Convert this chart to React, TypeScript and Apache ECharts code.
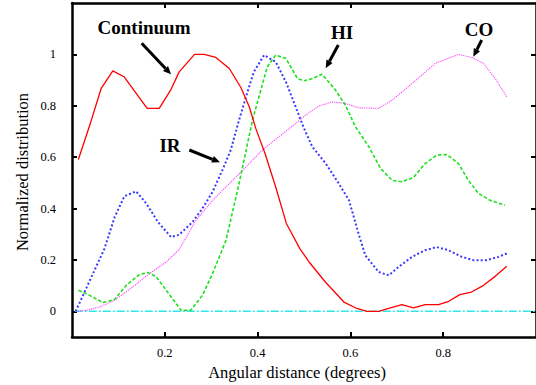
import React, { useEffect, useRef } from "react";
import * as echarts from "echarts";

// Angular distance (degrees) sampled for each tracer
const contX = [0.0137, 0.0375, 0.063, 0.088, 0.112, 0.162, 0.188, 0.2135, 0.231, 0.264, 0.285, 0.31, 0.339, 0.364, 0.382, 0.396, 0.416, 0.439, 0.462, 0.491, 0.511, 0.546, 0.586, 0.614, 0.636, 0.661, 0.686, 0.711, 0.736, 0.761, 0.79, 0.812, 0.836, 0.861, 0.887, 0.912, 0.937];
const contY = [0.591, 0.72, 0.868, 0.936, 0.913, 0.79, 0.79, 0.864, 0.932, 1.0, 1.0, 0.988, 0.945, 0.871, 0.796, 0.712, 0.614, 0.484, 0.342, 0.244, 0.192, 0.114, 0.036, 0.011, 0, 0, 0.013, 0.026, 0.013, 0.026, 0.026, 0.039, 0.065, 0.075, 0.101, 0.136, 0.175];

const irX = [0.008, 0.07, 0.092, 0.113, 0.138, 0.16, 0.185, 0.2135, 0.231, 0.26, 0.281, 0.303, 0.324, 0.342, 0.36, 0.375, 0.392, 0.414, 0.439, 0.461, 0.482, 0.5, 0.518, 0.547, 0.575, 0.597, 0.618, 0.632, 0.661, 0.683, 0.704, 0.733, 0.761, 0.786, 0.811, 0.84, 0.865, 0.894, 0.919, 0.937];
const irY = [0, 0.244, 0.367, 0.448, 0.467, 0.42, 0.348, 0.289, 0.298, 0.348, 0.4, 0.465, 0.549, 0.627, 0.744, 0.835, 0.932, 0.997, 0.971, 0.893, 0.796, 0.712, 0.64, 0.575, 0.497, 0.432, 0.3, 0.218, 0.153, 0.14, 0.173, 0.212, 0.238, 0.25, 0.238, 0.212, 0.199, 0.199, 0.212, 0.225];

const hiX = [0.014, 0.038, 0.067, 0.092, 0.117, 0.145, 0.163, 0.181, 0.203, 0.235, 0.256, 0.281, 0.303, 0.332, 0.36, 0.389, 0.407, 0.421, 0.439, 0.461, 0.486, 0.5, 0.518, 0.539, 0.568, 0.589, 0.611, 0.64, 0.665, 0.69, 0.711, 0.736, 0.761, 0.786, 0.808, 0.833, 0.854, 0.876, 0.901, 0.933];
const hiY = [0.082, 0.062, 0.034, 0.046, 0.101, 0.143, 0.151, 0.136, 0.082, 0.004, 0.004, 0.062, 0.147, 0.277, 0.497, 0.744, 0.861, 0.952, 0.997, 0.984, 0.906, 0.897, 0.906, 0.923, 0.861, 0.803, 0.718, 0.64, 0.556, 0.51, 0.504, 0.521, 0.575, 0.608, 0.61, 0.575, 0.51, 0.459, 0.432, 0.413];

const coX = [0.008, 0.031, 0.06, 0.092, 0.131, 0.167, 0.203, 0.231, 0.267, 0.303, 0.339, 0.375, 0.41, 0.446, 0.486, 0.504, 0.532, 0.561, 0.589, 0.618, 0.661, 0.69, 0.733, 0.783, 0.833, 0.861, 0.887, 0.912, 0.937];
const coY = [0, 0.004, 0.017, 0.043, 0.095, 0.147, 0.192, 0.24, 0.354, 0.432, 0.497, 0.562, 0.627, 0.679, 0.737, 0.764, 0.799, 0.815, 0.809, 0.792, 0.79, 0.822, 0.887, 0.965, 1.0, 0.988, 0.965, 0.906, 0.835];

const zeroX = [0.006, 1.0];
const zeroY = [0, 0];

const xTicks = [0.2, 0.4, 0.6, 0.8];
const yTicks = [0, 0.2, 0.4, 0.6, 0.8, 1];

const SERIF = "Liberation Serif";

// Force the serif face on every SVG text the chart emits
const textCss = `.serif-chart svg text { font-family: "Liberation Serif", "Times New Roman", serif !important; }`;

const pairs = (xs: number[], ys: number[]) => xs.map((x, i) => [x, ys[i]]);

// Straight arrow with a small filled head, in pixel space
function arrow(x1: number, y1: number, x2: number, y2: number) {
  const dx = x2 - x1;
  const dy = y2 - y1;
  const len = Math.hypot(dx, dy);
  const ux = dx / len;
  const uy = dy / len;
  const headLen = 8;
  const headW = 3.5;
  const bx = x2 - ux * headLen;
  const by = y2 - uy * headLen;
  return [
    {
      type: "line",
      shape: { x1, y1, x2: bx, y2: by },
      style: { stroke: "#000", lineWidth: 3 },
    },
    {
      type: "polygon",
      shape: {
        points: [
          [x2, y2],
          [bx - uy * headW, by + ux * headW],
          [bx + uy * headW, by - ux * headW],
        ],
      },
      style: { fill: "#000" },
    },
  ];
}

function label(text: string, x: number, y: number) {
  return {
    type: "text",
    x,
    y,
    style: {
      text,
      fill: "#000",
      fontFamily: SERIF,
      fontWeight: "bold",
      fontSize: 19,
      textAlign: "center",
      textVerticalAlign: "middle",
    },
  };
}

export default function App() {
  const ref = useRef<HTMLDivElement>(null);

  useEffect(() => {
    document.body.style.margin = "0";
    if (!ref.current) return;
    const chart = echarts.init(ref.current, undefined, { renderer: "svg" });

    const axisLine = { show: true, onZero: false, lineStyle: { color: "#000", width: 2.5 } };
    const tick = {
      show: true,
      inside: true,
      length: 5,
      lineStyle: { color: "#000", width: 2 },
    };
    const tickText = {
      color: "#000",
      fontFamily: SERIF,
      fontSize: 12.5,
    };

    const lineSeries = (
      name: string,
      xs: number[],
      ys: number[],
      color: string,
      width: number,
      type: any
    ) => ({
      name,
      type: "line",
      data: pairs(xs, ys),
      symbol: "none",
      lineStyle: { color, width, type },
    });

    chart.setOption({
      animation: false,
      textStyle: { fontFamily: SERIF },
      grid: { left: 72, top: 3, width: 466, height: 334 },
      xAxis: [
        {
          type: "value",
          min: 0,
          max: 1,
          position: "bottom",
          axisLine,
          splitLine: { show: false },
          axisTick: { ...tick, customValues: xTicks },
          axisLabel: { ...tickText, customValues: xTicks, margin: 9 },
        },
        {
          type: "value",
          min: 0,
          max: 1,
          position: "top",
          axisLine,
          splitLine: { show: false },
          axisTick: { ...tick, customValues: xTicks },
          axisLabel: { show: false },
        },
      ],
      yAxis: [
        {
          type: "value",
          min: -0.1,
          max: 1.2,
          position: "left",
          axisLine,
          splitLine: { show: false },
          axisTick: { ...tick, customValues: yTicks },
          axisLabel: { ...tickText, customValues: yTicks, margin: 16 },
        },
        {
          type: "value",
          min: -0.1,
          max: 1.2,
          position: "right",
          axisLine,
          splitLine: { show: false },
          axisTick: { ...tick, customValues: yTicks },
          axisLabel: { show: false },
        },
      ],
      series: [
        lineSeries("zero", zeroX, zeroY, "#33e6e6", 1.5, [8, 2, 2, 2]),
        lineSeries("CO", coX, coY, "#ff44ff", 1.1, [1.2, 1]),
        lineSeries("IR", irX, irY, "#3a3aff", 2, [2, 2.2]),
        lineSeries("HI", hiX, hiY, "#1fe01f", 1.6, [3.5, 2]),
        lineSeries("Continuum", contX, contY, "#ff0000", 1.3, "solid"),
      ],
      graphic: [
        label("Continuum", 144, 27),
        label("IR", 170, 145),
        label("HI", 342, 32),
        label("CO", 479, 29),
        ...arrow(141.7, 43.3, 171, 74.3),
        ...arrow(189.3, 150, 220, 162.3),
        ...arrow(338.3, 45, 325.7, 68.3),
        ...arrow(481.7, 40, 473.3, 56.7),
        {
          type: "text",
          x: 297,
          y: 372,
          style: {
            text: "Angular distance (degrees)",
            fill: "#000",
            fontFamily: SERIF,
            fontSize: 16.5,
            textAlign: "center",
            textVerticalAlign: "middle",
          },
        },
        {
          type: "text",
          x: 22,
          y: 172,
          rotation: Math.PI / 2,
          style: {
            text: "Normalized distribution",
            fill: "#000",
            fontFamily: SERIF,
            fontSize: 16.5,
            textAlign: "center",
            textVerticalAlign: "middle",
          },
        },
      ],
    });

    return () => chart.dispose();
  }, []);

  return (
    <>
      <style>{textCss}</style>
      <div ref={ref} className="serif-chart" style={{ width: 536, height: 385 }} />
    </>
  );
}
